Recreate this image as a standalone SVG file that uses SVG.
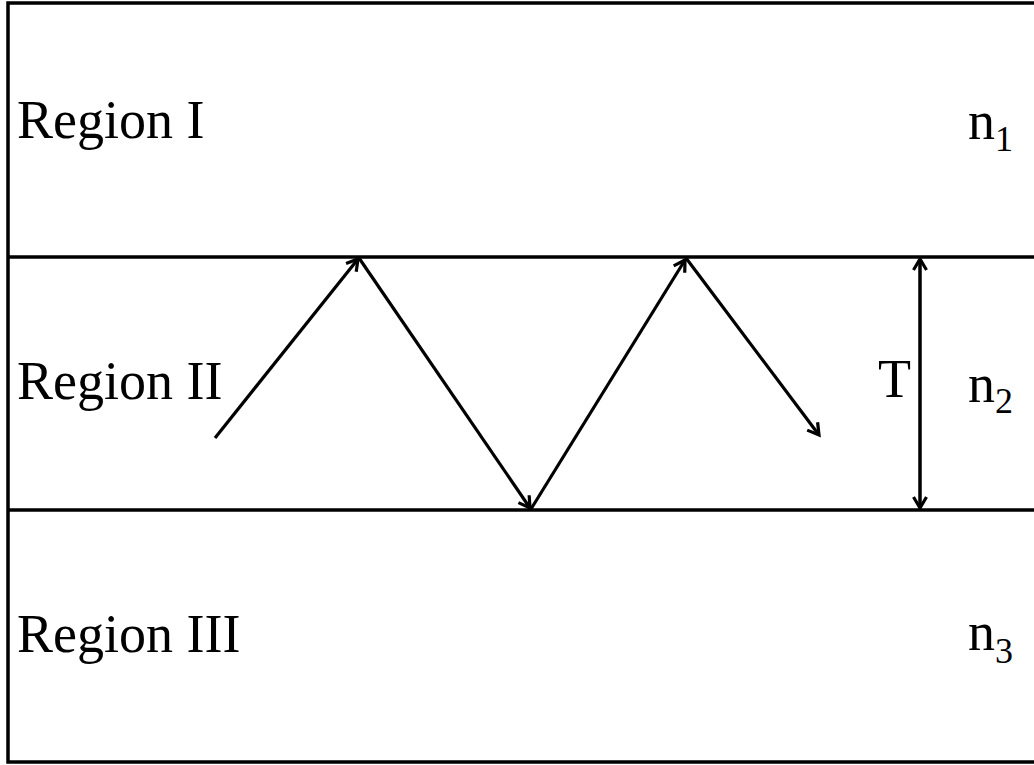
<svg xmlns="http://www.w3.org/2000/svg" width="1034" height="765" viewBox="0 0 1034 765">
<style>
.ln{stroke:#000;stroke-width:3.5;fill:none}
.ar{stroke:#000;stroke-width:3.2;fill:none;marker-end:url(#ah)}
.lbl{font-family:"Liberation Serif","Times New Roman",serif;font-size:54px;fill:#000}
.sub{font-size:36px}
</style>
<defs>
<marker id="ah" markerUnits="userSpaceOnUse" markerWidth="16" markerHeight="16" viewBox="0 0 16 16" refX="13" refY="8" orient="auto-start-reverse">
<path d="M2,1.5 L13,8 L2,14.5" fill="none" stroke="#000" stroke-width="3.2"/>
</marker>
</defs>
<g id="regions">
<rect x="8" y="3" width="1040" height="759" class="ln"/>
<line x1="8" y1="257" x2="1040" y2="257" class="ln"/>
<line x1="8" y1="510" x2="1040" y2="510" class="ln"/>
</g>
<g id="connectors">
<line x1="215" y1="438" x2="358" y2="259" class="ar"/>
<line x1="359" y1="258" x2="530" y2="508" class="ar"/>
<line x1="531" y1="509" x2="685" y2="260" class="ar"/>
<line x1="686" y1="258" x2="819" y2="435" class="ar"/>
<line x1="920" y1="259" x2="920" y2="508" class="ln" marker-start="url(#ah)" marker-end="url(#ah)"/>
</g>
<g id="region1"><text x="17" y="138" class="lbl">Region I</text></g>
<g id="region2"><text x="17" y="399" class="lbl">Region II</text></g>
<g id="region3"><text x="17" y="652" class="lbl">Region III</text></g>
<g id="n1"><text x="968" y="139" class="lbl">n<tspan class="sub" dy="12">1</tspan></text></g>
<g id="n2"><text x="968" y="402" class="lbl">n<tspan class="sub" dy="11">2</tspan></text></g>
<g id="n3"><text x="968" y="650" class="lbl">n<tspan class="sub" dy="13">3</tspan></text></g>
<g id="T"><text x="878" y="397" class="lbl">T</text></g>
</svg>
